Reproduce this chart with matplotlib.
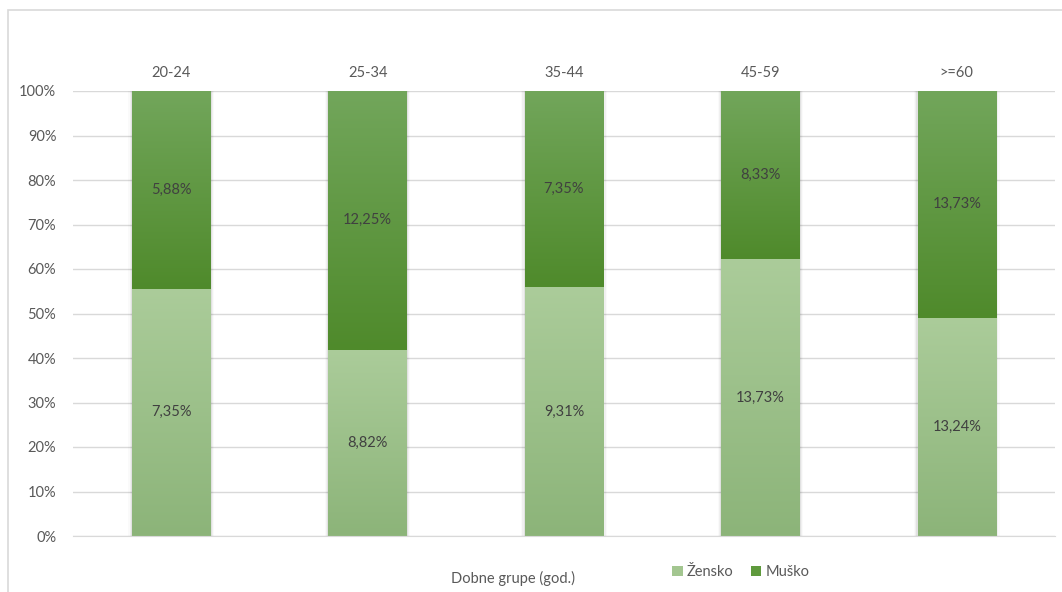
import numpy as np
import matplotlib.pyplot as plt
from matplotlib.colors import LinearSegmentedColormap
from matplotlib.patches import Rectangle, Patch

categories = ["20-24", "25-34", "35-44", "45-59", ">=60"]
zensko = [7.35, 8.82, 9.31, 13.73, 13.24]
musko = [5.88, 12.25, 7.35, 8.33, 13.73]
series_names = ["Žensko", "Muško"]

plt.rcParams['font.family'] = ['Lato', 'DejaVu Sans']
txt = '#595959'
grid_c = '#d9d9d9'
fs = 10.5

fig = plt.figure(figsize=(10.62, 5.92), dpi=100)
ax = fig.add_axes([73/1062, 1 - 536/592, 982/1062, 445/592])

z = np.array(zensko)
m = np.array(musko)
tot = z + m
zp = z / tot * 100
mp = m / tot * 100

f_cmap = LinearSegmentedColormap.from_list('f', ['#8cb479', '#abcc9a'])
m_cmap = LinearSegmentedColormap.from_list('m', ['#4f8a2b', '#72a65b'])
grad = np.linspace(0, 1, 256).reshape(-1, 1)

w = 0.4
x = np.arange(len(categories))
for i in range(len(categories)):
    # subtle shadow
    for k, a in enumerate([0.06, 0.04, 0.02]):
        ax.add_patch(Rectangle((x[i] - w/2 - 0.006*(k+1), 0), w + 0.012*(k+1), 100,
                               facecolor='black', alpha=a, edgecolor='none', zorder=1.5))
    ax.imshow(grad, extent=(x[i] - w/2, x[i] + w/2, 0, zp[i]), origin='lower',
              cmap=f_cmap, aspect='auto', zorder=2)
    ax.imshow(grad, extent=(x[i] - w/2, x[i] + w/2, zp[i], 100), origin='lower',
              cmap=m_cmap, aspect='auto', zorder=2)
    ax.text(x[i], zp[i] / 2, f"{zensko[i]:.2f}%".replace('.', ','), ha='center', va='center',
            fontsize=fs, color='#404040', zorder=3)
    ax.text(x[i], zp[i] + mp[i] / 2, f"{musko[i]:.2f}%".replace('.', ','), ha='center', va='center',
            fontsize=fs, color='#404040', zorder=3)

ax.set_xlim(-0.5, len(categories) - 0.5)
ax.set_ylim(0, 100)
ax.set_yticks(np.arange(0, 101, 10))
ax.set_yticklabels([f"{v}%" for v in range(0, 101, 10)], color=txt, fontsize=fs)
ax.yaxis.grid(True, color=grid_c, linewidth=1, zorder=0)
ax.set_axisbelow(True)
ax.tick_params(axis='y', length=0, pad=12)
ax.xaxis.tick_top()
ax.set_xticks(x)
ax.set_xticklabels(categories, color=txt, fontsize=fs)
ax.tick_params(axis='x', length=0, pad=8)
for s in ['top', 'left', 'right']:
    ax.spines[s].set_visible(False)
ax.spines['bottom'].set_color(grid_c)

fig.text(513/1062, 1 - 578/592, "Dobne grupe (god.)", ha='center', va='center', color=txt, fontsize=fs)
handles = [Patch(facecolor='#a3c690', edgecolor='none'), Patch(facecolor='#5f9a3d', edgecolor='none')]
fig.legend(handles, series_names, loc='center', bbox_to_anchor=(741/1062, 1 - 572/592), ncol=2,
           frameon=False, fontsize=fs, labelcolor=txt, handlelength=0.7, handleheight=0.7,
           handletextpad=0.3, columnspacing=1.2)

fig.patches.append(Rectangle((8/1062, -0.1), 1.2, 1 - 10/592 + 0.1, transform=fig.transFigure,
                             facecolor='none', edgecolor=grid_c, linewidth=1.2))

fig.savefig('out.png', dpi=100)
